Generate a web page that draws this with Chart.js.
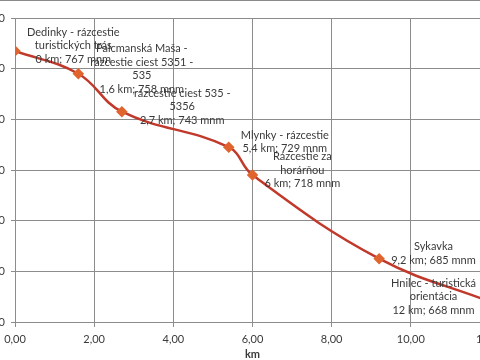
<!DOCTYPE html>
<html>
<head>
<meta charset="utf-8">
<script src="https://cdn.jsdelivr.net/npm/chart.js@4.4.1/dist/chart.umd.min.js"></script>
<style>
  html, body { margin: 0; padding: 0; background: #fff; overflow: hidden; }
  #frame { position: absolute; left: 0; top: 0; width: 480px; height: 360px; overflow: hidden; }
  #edge { position: absolute; left: 0; top: 0; width: 480px; height: 1px; background: #8a8a8a; }
  #box { position: absolute; left: -40px; top: 0; width: 560px; height: 360px; }
</style>
</head>
<body>
<div id="frame">
  <div id="box"><canvas id="myChart"></canvas></div>
  <div id="edge"></div>
</div>
<script>
//Data_
const km = [0, 1.6, 2.7, 5.4, 6, 9.2, 12];
const mnm = [767, 758, 743, 729, 718, 685, 668];
const names = [
    ['Dedinky - rázcestie', 'turistických trás'],
    ['Palcmanská Maša -', 'rázcestie ciest 5351 -', '535'],
    ['rázcestie ciest 535 -', '5356'],
    ['Mlynky - rázcestie'],
    ['Rázcestie za', 'horárňou'],
    ['Sykavka'],
    ['Hnilec - turistická', 'orientácia']
];
const xTitle = 'km';

//Styles_
const fontFamily = 'Lato, "Noto Sans", sans-serif';
const textColor = '#3a3a3a';
const gridColor = '#8c8c8c';

const kmText = (v) => String(v).replace('.', ',');

//Plugins_
const pointLabels = {
    id: 'pointLabels',
    afterDatasetsDraw(chart) {
        const ctx = chart.ctx;
        const meta = chart.getDatasetMeta(0);
        ctx.save();
        ctx.font = `11px ${fontFamily}`;
        ctx.fillStyle = textColor;
        ctx.textAlign = 'center';
        ctx.textBaseline = 'middle';
        meta.data.forEach((pt, i) => {
            const lines = names[i].concat(`${kmText(km[i])} km; ${mnm[i]} mnm`);
            const w = Math.max(...lines.map(l => ctx.measureText(l).width));
            const lh = 13.5;
            let cx = pt.x + 12 + w / 2;
            if (cx + w / 2 > chart.chartArea.right) cx = pt.x - 14 - w / 2;
            const top = pt.y - 5 - (lines.length - 1) * lh / 2;
            lines.forEach((l, j) => ctx.fillText(l, cx, top + j * lh));
        });
        ctx.restore();
    }
};

//Graph_
const graph = document.getElementById('myChart');
const chart = new Chart(graph, {
    type: 'line',
    data: {
        datasets: [{
            data: km.map((v, i) => ({ x: v, y: mnm[i] })),
            borderColor: '#c0392b',
            borderWidth: 2.5,
            backgroundColor: '#e0642e',
            pointBackgroundColor: '#e0642e',
            pointBorderColor: '#e0642e',
            pointStyle: 'rectRot',
            pointRadius: 4,
            tension: 0.4,
            fill: false
        }]
    },
    options: {
        responsive: true,
        maintainAspectRatio: false,
        animation: false,
        layout: { padding: { top: 18, right: 30, left: 0, bottom: 0 } },
        plugins: { legend: { display: false }, tooltip: { enabled: false } },
        scales: {
            x: {
                type: 'linear',
                min: 0,
                max: 12,
                ticks: {
                    stepSize: 2,
                    padding: 6,
                    color: textColor,
                    font: { family: fontFamily, size: 11 },
                    callback: (v) => v.toFixed(2).replace('.', ',')
                },
                grid: { color: gridColor, tickLength: 5 },
                border: { color: gridColor },
                title: {
                    display: true,
                    text: xTitle,
                    color: textColor,
                    padding: 0,
                    font: { family: fontFamily, size: 11, weight: 'bold', lineHeight: 1 }
                },
                afterFit: (scale) => { scale.height = 38; }
            },
            y: {
                min: 660,
                max: 780,
                ticks: {
                    stepSize: 20,
                    padding: 6,
                    color: textColor,
                    font: { family: fontFamily, size: 11 }
                },
                grid: { color: gridColor, tickLength: 4 },
                border: { color: gridColor },
                afterFit: (scale) => { scale.width = 55; }
            }
        }
    },
    plugins: [pointLabels]
});
</script>
</body>
</html>
